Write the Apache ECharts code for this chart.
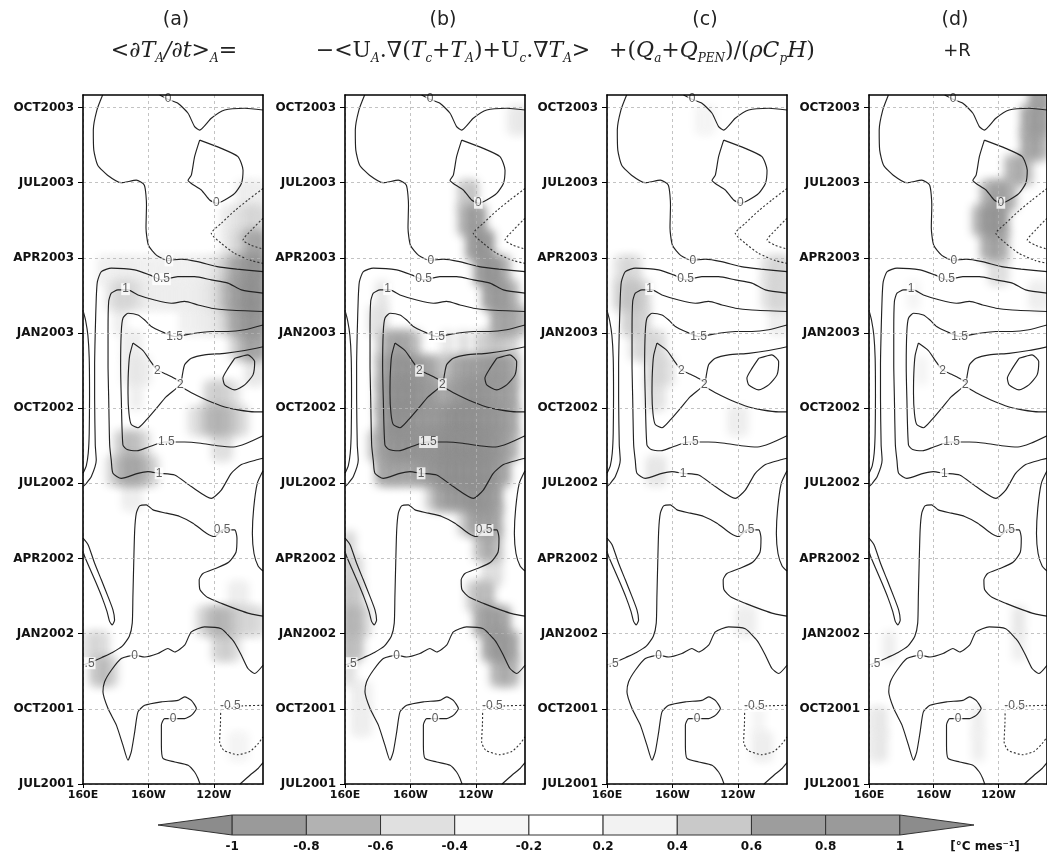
<!DOCTYPE html>
<html><head><meta charset="utf-8">
<script src="https://cdn.jsdelivr.net/npm/echarts@6/dist/echarts.min.js"></script>
<style>html,body{margin:0;padding:0;background:#fff}#c{width:1047px;height:861px}</style>
</head><body><div id="c"></div>
<script>
// ---------- axes ----------
const timeTicks = [0,3,6,9,12,15,18,21,24,27];
const timeLabels = ['JUL2001','OCT2001','JAN2002','APR2002','JUL2002','OCT2002','JAN2003','APR2003','JUL2003','OCT2003'];
const lonTicks = [160,200,240];
const lonLabels = ['160E','160W','120W'];
// ---------- contours (lon degE, months since JUL2001), same in every panel ----------
const c0Top = [[172,27.5],[168.5,26.9],[166.3,26.1],[166.6,25.3],[169,24.7],[175,24.3],[183.4,24.0],[192.6,24.1],[197.5,23.9],[198.8,23.1],[198.5,22.2],[200,21.5],[205,21.1],[212,20.9],[220,20.95],[230,20.85],[242,20.65],[254,20.55],[270,20.45]];
const c0TopRight = [[206.8,27.5],[211.9,27.33],[218,27.17],[224.2,26.77],[228.2,26.24],[231.3,26.1],[238.4,26.57],[246.6,26.9],[258.8,26.97],[270,26.9]];
const c0Loop = [[231.3,25.7],[244.5,25.37],[254.7,25.04],[257.8,24.5],[256.8,23.97],[252.7,23.57],[246.6,23.31],[241.5,23.18],[237.4,23.31],[232.3,23.71],[226.2,23.97],[224.2,24.1],[226.2,24.3],[228.2,25.04],[231.3,25.7]];
const c05Upper = [[270,19.59],[256.8,19.72],[248.6,19.99],[238.4,20.12],[228.2,20.25],[218,20.25],[207.9,20.12],[200.7,20.32],[191.6,20.52],[177.3,20.59],[171.2,20.45],[168.8,20.05],[168.1,19.39],[167.5,18.06],[167.1,16.73],[167.1,15.4],[167.5,13.53],[168.1,12.93],[165.1,12.27],[162,12.0],[160,11.87]];
const c1Main = [[270,18.86],[248.6,18.92],[238.4,18.99],[230.3,19.12],[222.1,19.26],[214,19.19],[203.8,19.32],[193.6,19.52],[187.5,19.72],[181.4,19.72],[177.3,19.59],[175.7,19.26],[175.3,18.06],[175.3,16.73],[175.7,15.4],[176.3,13.53],[177.3,12.9],[178.3,12.4],[183.4,12.2],[193.6,12.4],[199.7,12.47],[206.8,12.4],[216,12.33],[226.2,11.87],[238.4,11.4],[244.5,11.73],[250.6,12.4],[256.8,12.75],[266.9,12.95],[270,13.0]];
const c15Main = [[270,18.32],[258.8,18.13],[248.6,18.06],[238.4,18.06],[228.2,17.99],[216,17.86],[207.9,18.06],[201.8,18.26],[197.7,18.52],[193.6,18.72],[187.5,18.79],[184.4,18.59],[183.4,18.06],[183,16.73],[183.4,15.4],[184.4,13.53],[187,13.35],[193,13.3],[200,13.45],[210,13.65],[222,13.65],[232,13.6],[242,13.5],[252,13.45],[260,13.6],[270,13.9]];
const c2Left = [[190.5,17.6],[196.7,17.3],[201,16.9],[205,16.55],[211,16.35],[217,16.15],[220.1,16.0],[217,15.79],[210.9,15.46],[204.8,14.99],[198.7,14.53],[193.6,14.22],[189.5,14.35],[188.1,14.79],[187.5,15.59],[187.7,16.39],[188.5,17.1],[190.5,17.6]];
const c2Upper = [[220.1,16.05],[222.1,16.73],[226.2,16.99],[234.3,17.13],[246.6,17.19],[258.8,17.3],[270,17.45]];
const c2Lower = [[220.1,15.85],[227.2,15.59],[235.4,15.33],[246.6,15.05],[254.7,14.93],[264.9,14.85],[270,14.85]];
const c25Loop = [[252.7,16.99],[260.8,17.13],[264.9,16.86],[263.9,16.33],[258.8,15.93],[252.7,15.73],[246.6,15.93],[245.5,16.2],[248.6,16.59],[252.7,16.99]];
const cLeftBump = [[160,18.9],[161.6,18.5],[163,17.9],[163.8,17],[164,15.5],[163.8,14],[163.2,13.2],[162,12.7],[160,12.4]];
const cRightBump = [[270,12.5],[266.5,12.0],[264.3,11],[263.5,10],[264.5,9.2],[267,8.7],[270,8.5]];
const c1Tongue = [[160,9.81],[163.1,9.55],[167.1,8.81],[171.2,8.15],[175.3,7.48],[178.3,6.95],[179.3,6.55],[177.9,6.35],[176.3,6.48],[174.7,6.88],[171.8,7.42],[168.1,8.01],[164.1,8.61],[161,9.08],[160,9.28]];
const c05Lower = [[160,4.75],[166.1,4.89],[171.5,5.05],[178,5.25],[184,5.5],[188.3,5.9],[190.1,6.42],[190.5,7.48],[191,8.81],[191.6,10.14],[192.6,10.81],[194.6,11.1],[198.7,11.14],[202.8,10.94],[210.9,10.81],[219.1,10.68],[227.2,10.41],[235.4,10.01],[240.4,9.88],[245.5,10.14],[252.7,10.14],[254.1,9.81],[253.5,9.25],[249,8.85],[241,8.6],[233.3,8.4],[231,8.15],[231.5,7.75],[236,7.45],[245,7.2],[255,6.95],[262,6.8],[270,6.7]];
const c0Lower = [[270,4.74],[264.9,4.41],[260.8,4.61],[256.8,5.14],[253,5.6],[250.6,5.81],[244.5,6.2],[234.3,6.27],[226.2,6.07],[222.1,5.54],[216,5.27],[211.9,5.41],[205.8,5.21],[197.7,5.07],[191.6,5.14],[183.4,5.01],[177.3,4.54],[173.2,4.08],[172.2,3.68],[175.3,3.01],[180.4,2.35],[184.4,1.55],[187.5,0.95],[189.5,1.28],[191.6,2.08],[193.6,2.88],[197.7,3.14],[207.9,3.28],[218,3.34],[222.1,3.48],[226.2,3.34],[229.3,3.01],[226.2,2.74],[222.1,2.61],[216,2.61],[209.9,2.61],[207.9,2.35],[207.9,1.55],[208.9,1.02],[216,0.88],[224.2,0.75],[228.2,0.48],[230.3,0.22],[231.5,0]];
const c0Corner = [[256,0],[262,0.35],[267,0.62],[270,0.85]];
const dNegOuter = [[270,23.77],[260.8,23.31],[252.7,22.88],[244.5,22.38],[238.4,21.98],[244.5,21.58],[252.7,21.18],[262.9,20.89],[270,20.78]];
const dNegInner = [[270,22.58],[262.9,22.11],[257.8,21.71],[262.9,21.5],[270,21.35]];
const dNegLower = [[270,3.14],[258,3.12],[252,3.1],[244.5,3.08],[244,2.4],[243.5,1.68],[246,1.35],[254.7,1.17],[262,1.3],[267,1.61],[270,1.88]];
const solidContours = [c0Top,c0TopRight,c0Loop,c05Upper,c1Main,c15Main,c2Left,c2Upper,c2Lower,c25Loop,cLeftBump,cRightBump,c1Tongue,c05Lower,c0Lower,c0Corner];
const dashedContours = [dNegOuter,dNegInner,dNegLower];
const contourLabels = [[212,27.35,'0'],[241.5,23.2,'0'],[212.5,20.9,'0'],[208,20.15,'0.5'],[186,19.75,'1'],[216,17.86,'1.5'],[205.5,16.5,'2'],[219.5,15.95,'2'],[211,13.65,'1.5'],[206.5,12.4,'1'],[245,10.14,'0.5'],[164,4.82,'.5'],[191.6,5.12,'0'],[250,3.12,'-0.5'],[215,2.6,'0']];
// ---------- shading (°C/month) : [lon centre, month centre, value], 5° x 1 month cells ----------
const shadeA = [
[257.5,23.5,0.3],[262.5,23.5,0.3],[267.5,23.5,0.3],
[247.5,22.5,0.3],[252.5,22.5,0.35],[257.5,22.5,0.4],[262.5,22.5,0.45],[267.5,22.5,0.45],
[247.5,21.5,0.3],[252.5,21.5,0.4],[257.5,21.5,0.5],[262.5,21.5,0.7],[267.5,21.5,0.8],
[172.5,20.5,0.28],[177.5,20.5,0.28],[182.5,20.5,0.3],[187.5,20.5,0.3],[192.5,20.5,0.28],[197.5,20.5,0.28],[202.5,20.5,0.28],[207.5,20.5,0.28],[212.5,20.5,0.28],[217.5,20.5,0.28],[222.5,20.5,0.28],[227.5,20.5,0.28],[232.5,20.5,0.3],[237.5,20.5,0.32],[242.5,20.5,0.38],[247.5,20.5,0.5],[252.5,20.5,0.7],[257.5,20.5,0.9],[262.5,20.5,1.1],[267.5,20.5,1.2],
[177.5,19.5,0.35],[182.5,19.5,0.45],[187.5,19.5,0.45],[192.5,19.5,0.38],[197.5,19.5,0.3],[202.5,19.5,0.3],[207.5,19.5,0.3],[212.5,19.5,0.3],[217.5,19.5,0.3],[222.5,19.5,0.3],[227.5,19.5,0.3],[232.5,19.5,0.32],[237.5,19.5,0.35],[242.5,19.5,0.42],[247.5,19.5,0.6],[252.5,19.5,0.8],[257.5,19.5,1.0],[262.5,19.5,1.2],[267.5,19.5,1.2],
[182.5,18.5,0.3],[222.5,18.5,0.28],[227.5,18.5,0.28],[232.5,18.5,0.3],[237.5,18.5,0.32],[242.5,18.5,0.35],[247.5,18.5,0.45],[252.5,18.5,0.7],[257.5,18.5,0.9],[262.5,18.5,1.1],[267.5,18.5,1.1],
[187.5,17.5,0.3],[192.5,17.5,0.3],[252.5,17.5,0.4],[257.5,17.5,0.6],[262.5,17.5,0.8],[267.5,17.5,0.8],
[187.5,16.5,0.3],[192.5,16.5,0.35],[197.5,16.5,0.3],[262.5,16.5,0.35],[267.5,16.5,0.35],
[192.5,15.5,0.3],[237.5,15.5,0.45],[242.5,15.5,0.5],[247.5,15.5,0.45],[252.5,15.5,0.35],
[227.5,14.5,0.35],[232.5,14.5,0.45],[237.5,14.5,0.6],[242.5,14.5,0.65],[247.5,14.5,0.6],[252.5,14.5,0.5],[257.5,14.5,0.4],
[182.5,13.5,0.45],[187.5,13.5,0.6],[192.5,13.5,0.55],[197.5,13.5,0.4],[242.5,13.5,0.4],[247.5,13.5,0.4],
[177.5,12.5,0.4],[182.5,12.5,0.6],[187.5,12.5,0.75],[192.5,12.5,0.75],[197.5,12.5,0.6],[202.5,12.5,0.45],
[187.5,11.5,0.3],[192.5,11.5,0.3],
[252.5,7.5,0.3],[257.5,7.5,0.3],
[232.5,6.5,0.4],[237.5,6.5,0.55],[242.5,6.5,0.65],[247.5,6.5,0.6],[252.5,6.5,0.5],[257.5,6.5,0.45],[262.5,6.5,0.45],[267.5,6.5,0.4],
[162.5,5.5,0.35],[167.5,5.5,0.45],[172.5,5.5,0.4],[242.5,5.5,0.45],[247.5,5.5,0.5],[252.5,5.5,0.4],
[167.5,4.5,0.5],[172.5,4.5,0.6],[177.5,4.5,0.45],
[252.5,1.5,0.25],[257.5,1.5,0.25]];
const shadeB = [
[262.5,26.5,0.3],[267.5,26.5,0.35],
[232.5,23.5,0.5],[237.5,23.5,0.55],
[232.5,22.5,0.6],[237.5,22.5,0.95],[242.5,22.5,0.8],
[237.5,21.5,0.8],[242.5,21.5,1.1],[247.5,21.5,0.9],
[242.5,20.5,0.8],[247.5,20.5,1.1],[252.5,20.5,1.0],[257.5,20.5,0.6],
[182.5,19.5,0.35],[247.5,19.5,0.8],[252.5,19.5,1.0],[257.5,19.5,0.9],[262.5,19.5,0.6],
[177.5,18.5,0.35],[182.5,18.5,0.4],[252.5,18.5,0.7],[257.5,18.5,0.8],[262.5,18.5,0.7],[267.5,18.5,0.6],
[182.5,17.5,0.5],[187.5,17.5,0.7],[192.5,17.5,0.8],[197.5,17.5,0.7],[202.5,17.5,0.55],[222.5,17.5,0.35],[232.5,17.5,0.4],[242.5,17.5,0.45],[247.5,17.5,0.5],[252.5,17.5,0.55],[257.5,17.5,0.5],[262.5,17.5,0.45],
[182.5,16.5,0.65],[187.5,16.5,1.0],[192.5,16.5,1.1],[197.5,16.5,1.1],[202.5,16.5,1.0],[207.5,16.5,0.9],[212.5,16.5,0.7],[217.5,16.5,0.55],[222.5,16.5,0.55],[227.5,16.5,0.7],[232.5,16.5,0.8],[237.5,16.5,0.9],[242.5,16.5,0.9],[247.5,16.5,1.0],[252.5,16.5,1.0],[257.5,16.5,0.9],[262.5,16.5,0.7],
[182.5,15.5,0.7],[187.5,15.5,1.1],[192.5,15.5,1.2],[197.5,15.5,1.2],[202.5,15.5,1.1],[207.5,15.5,1.0],[212.5,15.5,0.9],[217.5,15.5,0.7],[222.5,15.5,0.7],[227.5,15.5,0.9],[232.5,15.5,1.0],[237.5,15.5,1.1],[242.5,15.5,1.1],[247.5,15.5,1.0],[252.5,15.5,0.9],[257.5,15.5,0.9],[262.5,15.5,0.7],
[182.5,14.5,0.7],[187.5,14.5,1.1],[192.5,14.5,1.2],[197.5,14.5,1.1],[202.5,14.5,1.0],[207.5,14.5,1.0],[212.5,14.5,1.0],[217.5,14.5,1.0],[222.5,14.5,1.1],[227.5,14.5,1.2],[232.5,14.5,1.2],[237.5,14.5,1.2],[242.5,14.5,1.1],[247.5,14.5,1.1],[252.5,14.5,1.0],[257.5,14.5,0.9],[262.5,14.5,0.7],
[177.5,13.5,0.5],[182.5,13.5,0.8],[187.5,13.5,1.0],[192.5,13.5,1.1],[197.5,13.5,1.1],[202.5,13.5,1.1],[207.5,13.5,1.1],[212.5,13.5,1.1],[217.5,13.5,1.1],[222.5,13.5,1.2],[227.5,13.5,1.2],[232.5,13.5,1.2],[237.5,13.5,1.2],[242.5,13.5,1.2],[247.5,13.5,1.1],[252.5,13.5,1.0],[257.5,13.5,0.8],[262.5,13.5,0.6],
[182.5,12.5,0.7],[187.5,12.5,0.8],[192.5,12.5,0.8],[197.5,12.5,0.7],[202.5,12.5,0.8],[207.5,12.5,0.9],[212.5,12.5,1.0],[217.5,12.5,1.1],[222.5,12.5,1.2],[227.5,12.5,1.2],[232.5,12.5,1.2],[237.5,12.5,1.2],[242.5,12.5,1.2],[247.5,12.5,1.1],[252.5,12.5,0.9],[257.5,12.5,0.7],
[212.5,11.5,0.45],[217.5,11.5,0.7],[222.5,11.5,0.9],[227.5,11.5,1.0],[232.5,11.5,1.0],[237.5,11.5,1.1],[242.5,11.5,1.1],[247.5,11.5,1.0],[252.5,11.5,0.8],
[232.5,10.5,0.45],[237.5,10.5,0.7],[242.5,10.5,0.9],[247.5,10.5,0.9],[252.5,10.5,0.7],
[162.5,9.5,0.45],[242.5,9.5,0.55],[247.5,9.5,0.7],[252.5,9.5,0.55],
[162.5,8.5,0.5],[167.5,8.5,0.4],[247.5,8.5,0.4],[252.5,8.5,0.4],
[162.5,7.5,0.55],[167.5,7.5,0.5],[237.5,7.5,0.45],[242.5,7.5,0.6],[247.5,7.5,0.6],
[162.5,6.5,0.65],[167.5,6.5,0.6],[172.5,6.5,0.4],[242.5,6.5,0.7],[247.5,6.5,0.9],[252.5,6.5,0.9],[257.5,6.5,0.7],
[162.5,5.5,0.6],[167.5,5.5,0.55],[247.5,5.5,0.7],[252.5,5.5,1.0],[257.5,5.5,1.0],[262.5,5.5,0.7],
[162.5,4.5,0.4],[252.5,4.5,0.6],[257.5,4.5,0.7],[262.5,4.5,0.6],
[167.5,3.5,0.3],[172.5,3.5,0.3],[167.5,2.5,0.3],[172.5,2.5,0.3]];
const shadeC = [
[217.5,26.5,0.25],[222.5,26.5,0.25],
[167.5,20.5,0.35],[172.5,20.5,0.45],[177.5,20.5,0.4],[257.5,20.5,0.35],[262.5,20.5,0.45],[267.5,20.5,0.45],
[167.5,19.5,0.45],[172.5,19.5,0.55],[177.5,19.5,0.55],[182.5,19.5,0.45],[257.5,19.5,0.35],[262.5,19.5,0.45],[267.5,19.5,0.45],
[172.5,18.5,0.45],[177.5,18.5,0.5],[182.5,18.5,0.45],[262.5,18.5,0.3],[267.5,18.5,0.3],
[177.5,17.5,0.4],[182.5,17.5,0.45],[187.5,17.5,0.45],[192.5,17.5,0.4],
[187.5,16.5,0.45],[192.5,16.5,0.45],[197.5,16.5,0.35],
[187.5,15.5,0.4],[192.5,15.5,0.35],
[237.5,14.5,0.3],[242.5,14.5,0.3],
[187.5,12.5,0.35],[192.5,12.5,0.35],
[242.5,6.5,0.3],[247.5,6.5,0.3],
[252.5,2.5,0.25],[252.5,1.5,0.3],[257.5,1.5,0.3]];
const shadeD = [
[262.5,27.5,0.75],[267.5,27.5,0.85],
[257.5,26.5,0.7],[262.5,26.5,0.95],[267.5,26.5,0.9],
[257.5,25.5,0.7],[262.5,25.5,0.8],[267.5,25.5,0.6],
[247.5,24.5,0.6],[252.5,24.5,0.7],[257.5,24.5,0.55],
[232.5,23.5,0.6],[237.5,23.5,0.85],[242.5,23.5,0.85],[247.5,23.5,0.6],
[227.5,22.5,0.6],[232.5,22.5,1.0],[237.5,22.5,1.1],[242.5,22.5,0.85],
[232.5,21.5,0.65],[237.5,21.5,0.85],[242.5,21.5,0.65],
[237.5,20.5,0.4],[242.5,20.5,0.4],
[187.5,19.5,0.25],[262.5,19.5,0.3],[267.5,19.5,0.3],[192.5,16.5,0.25],
[172.5,5.5,0.3],[252.5,6.5,0.35],[252.5,5.5,0.3],
[162.5,2.5,0.3],[167.5,2.5,0.35],[227.5,2.5,0.3],
[162.5,1.5,0.3],[167.5,1.5,0.35],[227.5,1.5,0.3]];
const shades = [shadeA, shadeB, shadeC, shadeD];
// ---------- colour bar ----------
const barTicks = ['-1','-0.8','-0.6','-0.4','-0.2','0.2','0.4','0.6','0.8','1'];
const barRanges = [[-1.4,-1],[-1,-0.8],[-0.8,-0.6],[-0.6,-0.4],[-0.4,-0.2],[-0.2,0.2],[0.2,0.4],[0.4,0.6],[0.6,0.8],[0.8,1],[1,1.4]];
const barColors = ['#8c8c8c','#9a9a9a','#b2b2b2','#e0e0e0','#f6f6f6','#ffffff','#f2f2f2','#c9c9c9','#9d9d9d','#9a9a9a','#8c8c8c'];
const shadeColors = ['#878787','#8b8b8b','#909090','#959595','#9a9a9a','#a2a2a2','#b4b4b4','#c8c8c8','#dcdcdc','#ececec','#fafafa','#ffffff','#ffffff','#ffffff','#fafafa','#ececec','#dcdcdc','#c8c8c8','#b4b4b4','#a2a2a2','#9a9a9a','#959595','#909090','#8b8b8b','#878787'];

// ---------- build ----------
const panelLeft = [83, 345, 607, 869];
const grids = [], xAxes = [], yAxes = [], series = [], shadeIdx = [];
const axisFont = {fontFamily:'DejaVu Sans', fontWeight:'bold', color:'#111'};
function joinLines(list){ const out=[]; list.forEach((c,k)=>{ if(k) out.push(['-','-']); c.forEach(p=>out.push(p)); }); return out; }
const SHIFT = 3000; // draw cells off-canvas and keep only their blurred shadow (soft shading)
panelLeft.forEach((left, i) => {
  grids.push({left:left, top:95, width:180, height:689});
  xAxes.push({type:'value', gridIndex:i, min:160, max:270, position:'bottom', z:10,
    axisLine:{show:true, onZero:false, lineStyle:{color:'#000', width:1.6}},
    axisTick:{show:true, length:4, customValues:lonTicks, lineStyle:{color:'#000'}},
    axisLabel:Object.assign({customValues:lonTicks, fontSize:11, margin:6, formatter:v=>lonLabels[lonTicks.indexOf(v)]}, axisFont),
    splitLine:{show:true, lineStyle:{type:[3,3], color:'#b4b4b4', width:0.8}}});
  xAxes.push({type:'value', gridIndex:i, min:160, max:270, position:'top', z:10,
    axisLine:{show:true, onZero:false, lineStyle:{color:'#000', width:1.6}},
    axisTick:{show:false}, axisLabel:{show:false}, splitLine:{show:false}});
  yAxes.push({type:'value', gridIndex:i, min:0, max:27.5, position:'left', z:10,
    axisLine:{show:true, onZero:false, lineStyle:{color:'#000', width:1.6}},
    axisTick:{show:true, length:5, customValues:timeTicks, lineStyle:{color:'#000'}},
    axisLabel:Object.assign({customValues:timeTicks, fontSize:12, margin:9, formatter:v=>timeLabels[timeTicks.indexOf(v)]}, axisFont),
    splitLine:{show:true, lineStyle:{type:[3,3], color:'#b4b4b4', width:0.8}}});
  yAxes.push({type:'value', gridIndex:i, min:0, max:27.5, position:'right', z:10,
    axisLine:{show:true, onZero:false, lineStyle:{color:'#000', width:1.6}},
    axisTick:{show:false}, axisLabel:{show:false}, splitLine:{show:false}});
  shadeIdx.push(series.length);
  const cells = shades[i].slice().sort((a,b)=>Math.abs(a[2])-Math.abs(b[2]));
  series.push({type:'custom', xAxisIndex:2*i, yAxisIndex:2*i, data:cells, clip:true, z:1, silent:true,
    encode:{x:0, y:1},
    renderItem:(params, api) => {
      const lon = api.value(0), m = api.value(1);
      const p0 = api.coord([lon-2.5, m+0.5]), p1 = api.coord([lon+2.5, m-0.5]);
      const col = api.visual('color');
      return {type:'rect', shape:{x:p0[0]-SHIFT-2, y:p0[1]-2, width:p1[0]-p0[0]+4, height:p1[1]-p0[1]+4},
        style:{fill:col, shadowBlur:10, shadowColor:col, shadowOffsetX:SHIFT, shadowOffsetY:0}};
    }});
  series.push({type:'line', xAxisIndex:2*i, yAxisIndex:2*i, data:joinLines(solidContours), showSymbol:false, symbol:'none',
    smooth:0.2, connectNulls:false, clip:true, silent:true, z:3, lineStyle:{color:'#222', width:1.15}});
  series.push({type:'line', xAxisIndex:2*i, yAxisIndex:2*i, data:joinLines(dashedContours), showSymbol:false, symbol:'none',
    smooth:0.2, connectNulls:false, clip:true, silent:true, z:3, lineStyle:{color:'#333', width:1.1, type:[2,2]}});
  series.push({type:'scatter', xAxisIndex:2*i, yAxisIndex:2*i, data:contourLabels, symbol:'circle', symbolSize:1, silent:true, z:4,
    dimensions:['lon','m',{name:'txt', type:'ordinal'}],
    itemStyle:{color:'rgba(0,0,0,0)'},
    label:{show:true, position:'inside', formatter:p=>p.value[2], fontSize:12, fontFamily:'Liberation Sans',
      color:'#333', backgroundColor:'#fff', padding:[0,1]}});
});
// colour bar grid
grids.push({left:158, top:815, width:816, height:20});
xAxes.push({type:'value', gridIndex:4, min:0, max:11,
  axisLine:{show:false}, axisTick:{show:false}, splitLine:{show:false},
  axisLabel:Object.assign({customValues:[1,2,3,4,5,6,7,8,9,10], fontSize:12, margin:6, formatter:v=>barTicks[v-1]}, axisFont)});
yAxes.push({type:'value', gridIndex:4, min:0, max:1, show:false});
series.push({type:'custom', xAxisIndex:8, yAxisIndex:8, data:barRanges, silent:true, z:2,
  renderItem:(params, api) => {
    const i = params.dataIndex, n = barRanges.length;
    const a = api.coord([i, 1]), b = api.coord([i+1, 0]);
    const ym = (a[1]+b[1])/2;
    const style = {fill:barColors[i], stroke:'#333', lineWidth:1};
    if (i === 0) return {type:'polygon', shape:{points:[[b[0],a[1]],[a[0],ym],[b[0],b[1]]]}, style};
    if (i === n-1) return {type:'polygon', shape:{points:[[a[0],a[1]],[b[0],ym],[a[0],b[1]]]}, style};
    return {type:'rect', shape:{x:a[0], y:a[1], width:b[0]-a[0], height:b[1]-a[1]}, style};
  }});

const serif = 'DejaVu Serif';
const richF = {
  m:{fontSize:22, fontFamily:serif, fontStyle:'italic', fill:'#222', lineHeight:28},
  u:{fontSize:22, fontFamily:serif, fill:'#222', lineHeight:28},
  s:{fontSize:12, fontFamily:serif, fontStyle:'italic', fill:'#222', verticalAlign:'bottom', lineHeight:15}
};
function ttl(x, y, text){ return {type:'text', x, y, silent:true, style:{text, rich:richF, align:'center', verticalAlign:'middle'}}; }
function plain(x, y, text, size){ return {type:'text', x, y, silent:true, style:{text, font:size+'px "DejaVu Sans"', fill:'#222', align:'center', verticalAlign:'middle'}}; }

const option = {
  animation:false,
  backgroundColor:'#fff',
  grid:grids, xAxis:xAxes, yAxis:yAxes, series,
  visualMap:{type:'continuous', show:false, seriesIndex:shadeIdx, dimension:2, min:-1.2, max:1.2, inRange:{color:shadeColors}},
  graphic:[
    plain(176, 20, '(a)', 19), plain(443, 20, '(b)', 19), plain(705, 20, '(c)', 19), plain(955, 20, '(d)', 19),
    ttl(174, 51, '{m|<∂T}{s|A}{m|/∂t>}{s|A}{m|=}'),
    ttl(453, 51, '{u|−<U}{s|A}{u|.∇(}{m|T}{s|c}{u|+}{m|T}{s|A}{u|)+U}{s|c}{u|.∇}{m|T}{s|A}{u|>}'),
    ttl(712, 51, '{u|+(}{m|Q}{s|a}{u|+}{m|Q}{s|PEN}{u|)/(}{m|ρC}{s|p}{m|H}{u|)}'),
    plain(957, 51, '+R', 18),
    {type:'text', x:985, y:847, silent:true, style:{text:'[°C mes⁻¹]', font:'bold 12px "DejaVu Sans"', fill:'#111', align:'center', verticalAlign:'middle'}}
  ]
};
const chart = echarts.init(document.getElementById('c'), null, {renderer:'canvas'});
chart.setOption(option);
</script></body></html>
